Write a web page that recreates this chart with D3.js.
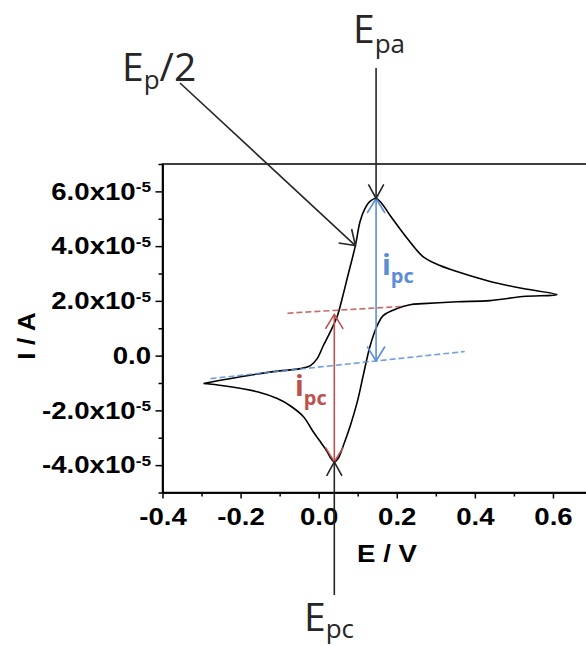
<!DOCTYPE html>
<html>
<head>
<meta charset="utf-8">
<script src="https://cdn.jsdelivr.net/npm/d3@7"></script>
<style>
  body { margin: 0; background: #fff; }
  svg { display: block; }
</style>
</head>
<body>
<svg></svg>
<script>
var w = 586, h = 646;

// potential (V) and current (x1e-5 A) of the voltammogram, left vertex -> right vertex -> back
var forwardE = [-0.295, -0.244, -0.200, -0.116, -0.047, -0.021, -0.004, 0.012, 0.030, 0.048, 0.060, 0.073, 0.094, 0.106, 0.118, 0.130, 0.147, 0.162, 0.183, 0.227, 0.267, 0.311, 0.354, 0.439, 0.523, 0.610];
var forwardI = [-1.02, -0.88, -0.77, -0.585, -0.475, -0.366, -0.11, 0.37, 0.88, 1.46, 2.08, 2.82, 4.02, 4.90, 5.36, 5.62, 5.74, 5.55, 5.12, 4.28, 3.62, 3.29, 3.07, 2.71, 2.45, 2.23];
var reverseE = [0.610, 0.523, 0.439, 0.354, 0.267, 0.234, 0.201, 0.165, 0.150, 0.132, 0.114, 0.099, 0.081, 0.063, 0.050, 0.040, 0.030, 0.022, 0.004, -0.014, -0.039, -0.073, -0.106, -0.157, -0.244, -0.295];
var reverseI = [2.23, 2.16, 2.01, 1.97, 1.90, 1.86, 1.72, 1.46, 1.10, 0.37, -0.73, -1.68, -2.56, -3.29, -3.75, -3.88, -3.72, -3.51, -3.14, -2.78, -2.23, -1.83, -1.57, -1.32, -1.10, -1.02];

// extrapolated baselines [E, I]
var redBaseline = [[-0.080, 1.55], [0.216, 1.80]];
var blueBaseline = [[-0.277, -0.84], [0.374, 0.15]];

// peaks
var Epa = 0.147, Ipa = 5.74;
var Epc = 0.040, Ipc = -3.88;
var EpHalf = 0.094, IpHalf = 4.02;

var xMajor = [-0.4, -0.2, 0.0, 0.2, 0.4, 0.6];
var xMinor = [-0.3, -0.1, 0.1, 0.3, 0.5];
var yMajor = [-4, -2, 0, 2, 4, 6];
var yMinor = [-5, -3, -1, 1, 3, 5, 7];

var red = "#c0504d", blue = "#5a8ed6", ink = "#262626";
var axisFont = "'Liberation Sans', Arial, sans-serif";
var noteFont = "'Open Sans', 'Noto Sans', sans-serif";

// plain hyphen for negatives, like the original software
var fmt = d3.formatLocale({ decimal: ".", thousands: ",", grouping: [3], currency: ["", ""], minus: "-" }).format(".1f");

var svg = d3.select("svg").attr("width", w).attr("height", h);

var x = d3.scaleLinear().domain([-0.4, 0.7]).range([162.5, 592]);
var y = d3.scaleLinear().domain([-5, 7]).range([492.5, 164]);

// frame
svg.append("rect")
    .attr("x", x(-0.4)).attr("y", y(7))
    .attr("width", x(0.7) - x(-0.4)).attr("height", y(-5) - y(7))
    .attr("fill", "none").attr("stroke", "#000").attr("stroke-width", 1.5);

// axes
var xAxis = svg.append("g").attr("transform", "translate(0," + y(-5) + ")")
    .call(d3.axisBottom(x).tickValues(xMajor).tickSize(6).tickSizeOuter(0).tickPadding(9)
        .tickFormat(fmt));
svg.append("g").attr("transform", "translate(0," + y(-5) + ")")
    .call(d3.axisBottom(x).tickValues(xMinor).tickSize(4).tickSizeOuter(0).tickFormat(""));

var yAxis = svg.append("g").attr("transform", "translate(" + x(-0.4) + ",0)")
    .call(d3.axisLeft(y).tickValues(yMajor).tickSize(7).tickSizeOuter(0).tickPadding(3));
svg.append("g").attr("transform", "translate(" + x(-0.4) + ",0)")
    .call(d3.axisLeft(y).tickValues(yMinor).tickSize(4).tickSizeOuter(0).tickFormat(""));

svg.selectAll(".domain, .tick line").attr("stroke", "#000").attr("stroke-width", 1.5);

svg.selectAll(".tick text")
    .attr("font-family", axisFont)
    .attr("font-weight", "bold")
    .attr("font-size", 24)
    .attr("fill", "#000")
    .attr("transform", "scale(1.15,1)");

yAxis.selectAll(".tick text").each(function (d) {
    var t = d3.select(this).text(null);
    if (d === 0) {
        t.text("0.0");
        return;
    }
    t.append("tspan").text(fmt(d) + "x10");
    t.append("tspan").attr("dy", "-0.5em").attr("font-size", 15).text("-5");
});

// axis titles
svg.append("text")
    .attr("transform", "translate(387,562) scale(1.15,1)")
    .attr("text-anchor", "middle")
    .attr("font-family", axisFont).attr("font-weight", "bold").attr("font-size", 24)
    .text("E / V");
svg.append("text")
    .attr("transform", "translate(35,336) rotate(-90) scale(1.1,1)")
    .attr("text-anchor", "middle")
    .attr("font-family", axisFont).attr("font-weight", "bold").attr("font-size", 24)
    .text("I / A");

// voltammogram
var loop = forwardE.map((e, i) => [e, forwardI[i]])
    .concat(reverseE.map((e, i) => [e, reverseI[i]]).slice(1));

var line = d3.line()
    .x(d => x(d[0]))
    .y(d => y(d[1]))
    .curve(d3.curveCatmullRom.alpha(0.5));

svg.append("path")
    .datum(loop)
    .attr("d", line)
    .attr("fill", "none")
    .attr("stroke", "#000")
    .attr("stroke-width", 1.6);

// dashed baselines
[[redBaseline, red], [blueBaseline, blue]].forEach(b => {
    svg.append("path")
        .datum(b[0])
        .attr("d", d3.line().x(d => x(d[0])).y(d => y(d[1])))
        .attr("fill", "none")
        .attr("stroke", b[1])
        .attr("stroke-width", 1.6)
        .attr("stroke-dasharray", "6,3")
        .attr("opacity", 0.85);
});

function baselineAt(b, e) {
    var t = (e - b[0][0]) / (b[1][0] - b[0][0]);
    return b[0][1] + t * (b[1][1] - b[0][1]);
}

// open "V" arrow head with tip at (tx,ty), pointing along angle (radians)
function arrowHead(tx, ty, angle, len, spread, color) {
    var a1 = angle + Math.PI - spread, a2 = angle + Math.PI + spread;
    svg.append("path")
        .attr("d", "M" + (tx + len * Math.cos(a1)) + "," + (ty + len * Math.sin(a1)) +
            "L" + tx + "," + ty +
            "L" + (tx + len * Math.cos(a2)) + "," + (ty + len * Math.sin(a2)))
        .attr("fill", "none")
        .attr("stroke", color)
        .attr("stroke-width", 1.6);
}

function arrow(x1, y1, x2, y2, color, both, len, spread) {
    svg.append("line")
        .attr("x1", x1).attr("y1", y1).attr("x2", x2).attr("y2", y2)
        .attr("stroke", color).attr("stroke-width", 1.6);
    var ang = Math.atan2(y2 - y1, x2 - x1);
    arrowHead(x2, y2, ang, len, spread, color);
    if (both) arrowHead(x1, y1, ang + Math.PI, len, spread, color);
}

// i_pc arrows (peak to baseline)
arrow(x(Epa), y(Ipa), x(Epa), y(baselineAt(blueBaseline, Epa)), blue, true, 17, 0.55);
arrow(x(Epc), y(Ipc), x(Epc), y(baselineAt(redBaseline, Epc)) + 4, red, true, 17, 0.55);

// label arrows
arrow(x(Epa), 68, x(Epa), y(Ipa), ink, false, 16, 0.5);
arrow(x(Epc), 595, x(Epc), y(Ipc), ink, false, 16, 0.5);
arrow(180, 83, x(EpHalf), y(IpHalf), ink, false, 17, 0.6);

// labels
function subLabel(px, py, main, sub, tail, color, size, subSize, weight, shift) {
    var t = svg.append("text")
        .attr("x", px).attr("y", py)
        .attr("font-family", noteFont)
        .attr("font-weight", weight)
        .attr("font-size", size)
        .attr("fill", color);
    t.append("tspan").text(main);
    t.append("tspan").attr("font-size", subSize).attr("dy", shift).text(sub);
    if (tail) t.append("tspan").attr("dy", -shift).text(tail);
}

subLabel(353, 43, "E", "pa", null, ink, 39, 26, "normal", 10);
subLabel(122, 81, "E", "p", "/2", ink, 39, 26, "normal", 8);
subLabel(304, 631, "E", "pc", null, ink, 39, 26, "normal", 7);
subLabel(382, 275, "i", "pc", null, blue, 29, 20, "bold", 8);
subLabel(295, 396, "i", "pc", null, red, 29, 20, "bold", 9);
</script>
</body>
</html>
